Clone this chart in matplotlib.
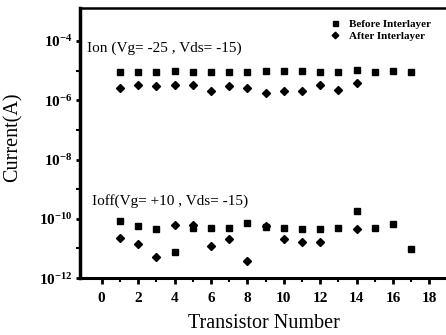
import matplotlib
matplotlib.use("Agg")
import matplotlib.pyplot as plt
import numpy as np
from matplotlib.ticker import FixedLocator, FuncFormatter

plt.rcParams['font.family'] = 'Liberation Serif'
plt.rcParams['mathtext.fontset'] = 'custom'
plt.rcParams['mathtext.rm'] = 'Liberation Serif:bold'
plt.rcParams['mathtext.it'] = 'Liberation Serif:bold'
plt.rcParams['mathtext.bf'] = 'Liberation Serif:bold'

# Ion data
ion_n = np.arange(1, 18)
ion_before = [9.3e-6, 8.7e-6, 9.3e-6, 9.7e-6, 9.3e-6, 9.3e-6, 9.3e-6, 8.7e-6, 9.9e-6,
              9.7e-6, 9.5e-6, 8.9e-6, 9.3e-6, 1.05e-5, 9.3e-6, 9.9e-6, 9.1e-6]
ion_after_n = np.arange(1, 15)
ion_after = [2.6e-6, 3.2e-6, 3.1e-6, 3.4e-6, 3.2e-6, 2.1e-6, 3.0e-6, 2.6e-6, 1.8e-6,
             2.0e-6, 2.0e-6, 3.4e-6, 2.3e-6, 3.8e-6]

# Ioff data
ioff_n = np.arange(1, 18)
ioff_before = [8.5e-11, 5.8e-11, 4.4e-11, 7.4e-12, 5.0e-11, 4.8e-11, 4.8e-11, 7.0e-11, 5.4e-11,
               5.0e-11, 4.4e-11, 4.4e-11, 4.8e-11, 1.9e-10, 4.8e-11, 6.7e-11, 9.5e-12]
ioff_after_n = [1, 2, 3, 4, 5, 6, 7, 8, 9, 10, 11, 12, 14]
ioff_after = [2.3e-11, 1.4e-11, 5.2e-12, 6.2e-11, 6.2e-11, 1.2e-11, 2.1e-11, 3.8e-12,
              5.7e-11, 2.1e-11, 1.7e-11, 1.7e-11, 4.4e-11]

fig = plt.figure(figsize=(4.46, 3.35), dpi=100)
ax = fig.add_axes([0.179, 0.170, 0.845, 0.806])

ax.plot(ion_n, ion_before, 's', color='black', ms=4.5, label='Before Interlayer')
ax.plot(ion_after_n, ion_after, 'D', color='black', ms=4.2, label='After Interlayer')
ax.plot(ioff_n, ioff_before, 's', color='black', ms=4.5)
ax.plot(ioff_after_n, ioff_after, 'D', color='black', ms=4.2)

ax.set_yscale('log')
ax.set_ylim(1e-12, 1.3e-3)
ax.set_xlim(-1.2, 19.5)

ax.xaxis.set_major_locator(FixedLocator(np.arange(0, 19, 2)))
ax.xaxis.set_minor_locator(FixedLocator(np.arange(1, 19, 2)))
ax.yaxis.set_major_locator(FixedLocator([1e-12, 1e-10, 1e-8, 1e-6, 1e-4]))
ax.yaxis.set_minor_locator(FixedLocator([1e-11, 1e-9, 1e-7, 1e-5]))
ax.yaxis.set_major_formatter(FuncFormatter(lambda v, p: r'$10^{%d}$' % round(np.log10(v))))
ax.yaxis.set_minor_formatter(FuncFormatter(lambda v, p: ''))

ax.tick_params(axis='x', which='major', labelsize=11, direction='out', length=4, width=2, pad=6)
ax.tick_params(axis='x', which='minor', direction='out', length=3, width=1.5)
ax.tick_params(axis='y', which='major', labelsize=11, direction='out', length=3, width=2, pad=2)
ax.tick_params(axis='y', which='minor', direction='out', length=3, width=1.5)
for lbl in ax.get_xticklabels():
    lbl.set_fontweight('bold')

ax.spines['left'].set_linewidth(2.5)
ax.spines['bottom'].set_linewidth(2.2)
ax.spines['top'].set_linewidth(1.8)
ax.spines['right'].set_linewidth(1.8)

ax.set_xlabel('Transistor Number', fontsize=14.5, va='center')
ax.set_ylabel('Current(A)', fontsize=14.5, va='center')
ax.xaxis.set_label_coords(0.488, -0.17)
ax.yaxis.set_label_coords(-0.178, 0.52)

ax.text(0.02, 0.85, 'Ion (Vg= -25 , Vds= -15)', transform=ax.transAxes, fontsize=11, va='center')
ax.text(0.033, 0.285, 'Ioff(Vg= +10 , Vds= -15)', transform=ax.transAxes, fontsize=11, va='center')

ax.legend(loc='upper left', bbox_to_anchor=(0.635, 0.995), frameon=False,
          prop={'family': 'Liberation Serif', 'weight': 'bold', 'size': 8},
          handletextpad=0.8, labelspacing=0.15, handlelength=1, markerscale=0.8)

fig.savefig('out.png', dpi=100)
